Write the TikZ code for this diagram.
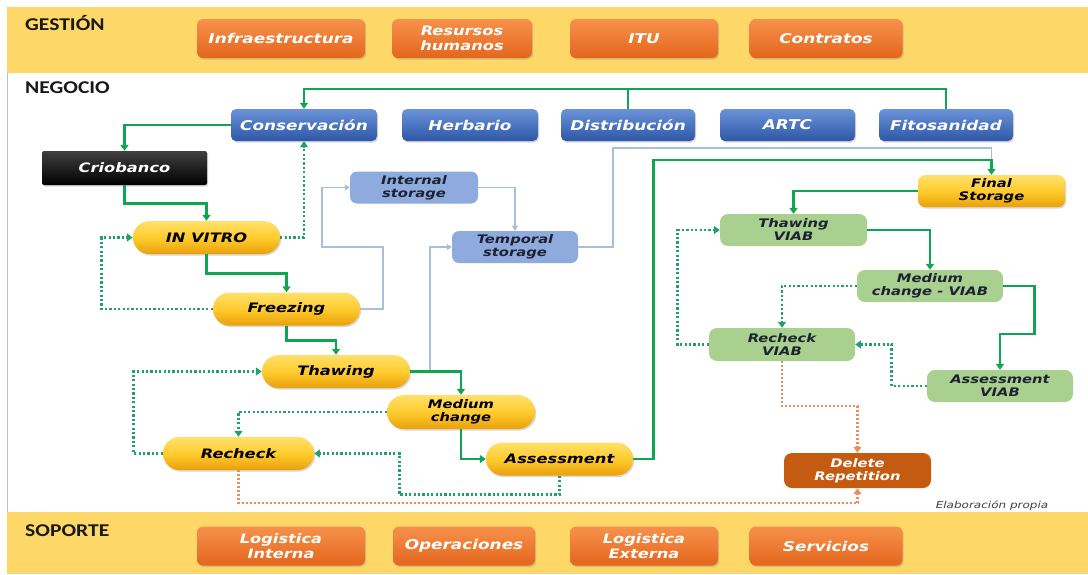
\documentclass[tikz,border=0pt]{standalone}
\usepackage{fontspec}
\usetikzlibrary{arrows.meta,shapes.misc,shadows}
\newfontfamily\boxfont[FakeStretch=1.25]{DejaVu Sans}
\newfontfamily\bandfont[FakeStretch=1.2]{Carlito}
\definecolor{bandyellow}{HTML}{FDD868}
\definecolor{orTop}{HTML}{F7914C}
\definecolor{orBot}{HTML}{E4661C}
\definecolor{blTop}{HTML}{6B93D9}
\definecolor{blBot}{HTML}{2D57A6}
\definecolor{pillTop}{HTML}{FFE06A}
\definecolor{pillMid}{HTML}{FFCC2E}
\definecolor{pillBot}{HTML}{E9A00A}
\definecolor{storeFill}{HTML}{8FAADC}
\definecolor{viabFill}{HTML}{A9D08E}
\definecolor{delFill}{HTML}{C55A11}
\definecolor{flowGreen}{HTML}{10A550}
\definecolor{dotGreen}{HTML}{22A06C}
\definecolor{storeLine}{HTML}{A8BEDD}
\definecolor{delLine}{HTML}{E8905A}
\definecolor{darkText}{HTML}{1C2233}
\begin{document}
\begin{tikzpicture}[x=1pt,y=-1pt,
  shadowed/.style={drop shadow={shadow xshift=1.2pt,shadow yshift=-1.6pt,opacity=0.3}},
  box/.style={inner sep=0pt, align=center,
    font=\boxfont\bfseries\itshape\fontsize{13}{14}\selectfont},
  bigbox/.style={font=\boxfont\bfseries\itshape\fontsize{13.5}{14.5}\selectfont},
  twoline/.style={font=\boxfont\bfseries\itshape\fontsize{11.8}{13}\selectfont},
  bigtwoline/.style={font=\boxfont\bfseries\itshape\fontsize{13}{14.5}\selectfont},
  orangebox/.style={box, bigbox, shadowed, rounded corners=6pt, top color=orTop, bottom color=orBot,
    text=white, minimum height=39pt},
  bluebox/.style={box, bigbox, shadowed, rounded corners=5pt, top color=blTop, bottom color=blBot,
    text=white, minimum height=32pt},
  pill/.style={box, shadowed, rounded rectangle, top color=pillTop, bottom color=pillBot,
    middle color=pillMid, text=black, minimum width=147pt, minimum height=33pt},
  criobox/.style={box, shadowed, rounded corners=2pt, top color=black!75, bottom color=black,
    text=white, minimum width=165pt, minimum height=34pt},
  storebox/.style={box, twoline, rounded corners=7pt, fill=storeFill, text=darkText,
    minimum height=32pt},
  viabbox/.style={box, twoline, rounded corners=8pt, fill=viabFill, text=darkText,
    minimum width=146pt, minimum height=32pt},
  finalbox/.style={box, twoline, shadowed, rounded corners=7pt, top color=pillTop,
    bottom color=pillBot, middle color=pillMid, text=black, minimum width=147pt, minimum height=32pt},
  delbox/.style={box, twoline, rounded corners=8pt, fill=delFill, text=white,
    minimum width=147pt, minimum height=35pt},
  bandlabel/.style={anchor=west, inner sep=0pt, text=black!90,
    font=\bandfont\bfseries\fontsize{18}{20}\selectfont},
  flow/.style={draw=flowGreen, line width=2.6pt, -{Triangle[length=6pt,width=8pt]}},
  flowline/.style={draw=flowGreen, line width=2.6pt},
  back/.style={draw=dotGreen, line width=2.8pt, dash pattern=on 2.2pt off 2.2pt,
    -{Triangle[length=6pt,width=8pt]}},
  storeline/.style={draw=storeLine, line width=1.6pt, -{Triangle[length=5pt,width=6pt]}},
  dropline/.style={draw=delLine, line width=2.2pt, dash pattern=on 2pt off 2pt,
    -{Triangle[length=6pt,width=8pt]}}
]
\useasboundingbox (0,0) rectangle (1088,574);
\fill[white] (0,0) rectangle (1088,574);

% bands
\fill[bandyellow] (7,7) rectangle (1088,73);
\fill[bandyellow] (7,512) rectangle (1088,574);
\draw[black!25, line width=0.8pt] (7,73) -- (7,512);

\node[bandlabel] (gestion) at (25,23) {GESTIÓN};
\node[bandlabel] (negocio) at (25,88) {NEGOCIO};
\node[bandlabel] (soporte) at (25,531) {SOPORTE};

% management
\node[orangebox, minimum width=168pt] (infra) at (281,38.5) {Infraestructura};
\node[orangebox, minimum width=140pt, bigtwoline] (rrhh) at (462,38.5) {Resursos\\humanos};
\node[orangebox, minimum width=148pt] (itu) at (644,38.5) {ITU};
\node[orangebox, minimum width=153pt] (contr) at (826,38.5) {Contratos};

% support
\node[orangebox, minimum width=168pt, bigtwoline] (logint) at (281,546) {Logistica\\Interna};
\node[orangebox, minimum width=142pt] (oper) at (464,546) {Operaciones};
\node[orangebox, minimum width=148pt, bigtwoline] (logext) at (644,546) {Logistica\\Externa};
\node[orangebox, minimum width=153pt] (serv) at (826,546) {Servicios};

% business units
\node[bluebox, minimum width=146pt] (cons) at (304,125) {Conservación};
\node[bluebox, minimum width=136pt] (herb) at (470,125) {Herbario};
\node[bluebox, minimum width=134pt] (dist) at (628,125) {Distribución};
\node[bluebox, minimum width=135pt] (artc) at (787.5,125) {ARTC};
\node[bluebox, minimum width=134pt] (fito) at (946,125) {Fitosanidad};

% cryobank process
\node[criobox] (crio) at (124.5,168) {Criobanco};
\node[pill] (invitro) at (206.5,237.5) {IN VITRO};
\node[pill] (freezing) at (286.5,309) {Freezing};
\node[pill, minimum width=148pt] (thawing) at (336,371.5) {Thawing};
\node[pill, twoline, minimum width=148pt, minimum height=34pt] (medium) at (461,412) {Medium\\change};
\node[pill, minimum width=151pt] (recheck) at (238.5,453.5) {Recheck};
\node[pill] (assess) at (559.5,459) {Assessment};
\node[storebox, minimum width=128pt] (internal) at (414,187.5) {Internal\\storage};
\node[storebox, minimum width=126pt] (temporal) at (515,247) {Temporal\\storage};
\node[finalbox] (final) at (991.5,191) {Final\\Storage};

% viability branch
\node[viabbox, minimum width=147pt] (thawV) at (793.5,230) {Thawing\\VIAB};
\node[viabbox] (medV) at (930,286) {Medium\\change - VIAB};
\node[viabbox, minimum height=33pt] (recV) at (782,344.5) {Recheck\\VIAB};
\node[viabbox] (assessV) at (1000,386) {Assessment\\VIAB};
\node[delbox] (delete) at (857.5,470.5) {Delete\\Repetition};

\node[inner sep=0pt, text=black!75, font=\boxfont\itshape\fontsize{9.6}{11}\selectfont]
  (elab) at (992,506) {Elaboración propia};

% storage connectors
\coordinate (tb) at (430,371.5);
\draw[storeline] (tb) |- (temporal.west);
\draw[storeline] (freezing.east) -- ++(23,0) -- ++(0,-62) -- ++(-61,0) |- (internal.west);
\draw[storeline] (internal.east) -| (temporal.north);
\draw[storeline] (temporal.east) -- ++(35,0) -- ++(0,-99) -| (final.north);

% main flow
\draw[flowline] (dist.north) -- ++(0,-20);
\draw[flow] (fito.north) -- ++(0,-20) -| (cons.north);
\draw[flow] (cons.west) -| (crio.north);
\draw[flow] (crio.south) -- ++(0,18) -| (invitro.north);
\draw[flow] (invitro.south) -- ++(0,19) -| (freezing.north);
\draw[flow] (freezing.south) -- ++(0,15) -| (thawing.north);
\draw[flow] (thawing.east) -| (medium.north);
\draw[flow] (medium.south) |- (assess.west);
\draw[flow] (assess.east) -- ++(20,0) -- ++(0,-299) -| (final.north);
\draw[flow] (final.west) -| (thawV.north);
\draw[flow] (thawV.east) -| (medV.north);
\draw[flow] (medV.east) -- ++(31,0) -- ++(0,48) -| (assessV.north);

% loops back
\draw[back] (invitro.east) -| (cons.south);
\draw[back] (freezing.west) -- ++(-111,0) |- (invitro.west);
\draw[back] (medium.west) -| (recheck.north);
\draw[back] (recheck.west) -- ++(-29,0) |- (thawing.west);
\draw[back] (assess.south) -- ++(0,19) -| ([xshift=85pt]recheck.east) -- (recheck.east);
\draw[back] (medV.west) -| (recV.north);
\draw[back] (recV.west) -- ++(-31,0) |- (thawV.west);
\draw[back] (assessV.west) -- ++(-35,0) |- (recV.east);

% repetitions removed
\draw[dropline] (recheck.south) -- ++(0,33) -| (delete.south);
\draw[dropline] (recV.south) -- ++(0,45) -| (delete.north);
\end{tikzpicture}
\end{document}
